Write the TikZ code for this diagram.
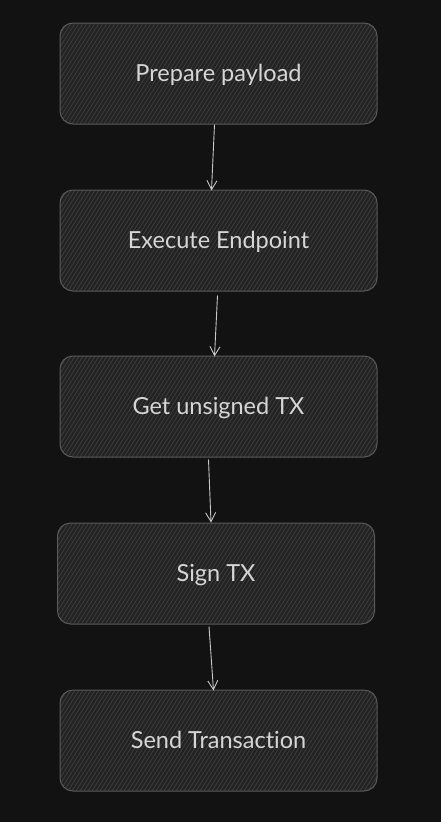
\documentclass[tikz,border=0pt]{standalone}
\usepackage{fontspec}
\setmainfont{Lato}[Ligatures={NoCommon}]
\usetikzlibrary{arrows.meta}
\definecolor{bg}{HTML}{121212}
\definecolor{boxfill}{HTML}{222222}
\definecolor{hatch}{HTML}{3B3B3B}
\definecolor{edge}{HTML}{5A5A5A}
\definecolor{txt}{HTML}{D6D6D6}
\definecolor{arr}{HTML}{C8C8C8}
\tikzset{
  stepbox/.style={draw=edge, line width=1pt, fill=boxfill, rounded corners=13pt,
    minimum width=317pt, minimum height=101pt, inner sep=0pt,
    text height=19.5pt, text depth=4pt,
    text=txt, font=\fontsize{23.5}{28}\selectfont,
    path picture={
      \foreach \k in {-40,...,90}{
        \draw[hatch, line width=0.9pt]
          ([xshift=\k*4pt]path picture bounding box.south west) -- ++(58:130pt);
      }
    }},
  flow/.style={draw=arr, line width=0.9pt, -{Straight Barb[length=9pt,width=10pt]}}
}
\begin{document}
\begin{tikzpicture}[x=1pt,y=-1pt]
\fill[bg] (0,0) rectangle (441,822);
\useasboundingbox (0,0) rectangle (441,822);
\node[stepbox] (b1) at (218.5,73.5) {Prepare payload};
\node[stepbox] (b2) at (218.5,240.5) {Execute Endpoint};
\node[stepbox] (b3) at (218.5,406.5) {Get unsigned TX};
\node[stepbox] (b4) at (216,573.5) {Sign TX};
\node[stepbox] (b5) at (218.5,740.5) {Send Transaction};
\draw[flow] ([xshift=-4pt]b1.south) -- ([xshift=-7pt,yshift=-1pt]b2.north);
\draw[flow] ([xshift=-1pt,yshift=-4pt]b2.south) -- ([xshift=-4pt,yshift=-1pt]b3.north);
\draw[flow] ([xshift=-10pt,yshift=-2pt]b3.south) -- ([xshift=-5pt]b4.north);
\draw[flow] ([xshift=-7pt,yshift=-2pt]b4.south) -- ([xshift=-5pt,yshift=-1pt]b5.north);
\end{tikzpicture}
\end{document}
